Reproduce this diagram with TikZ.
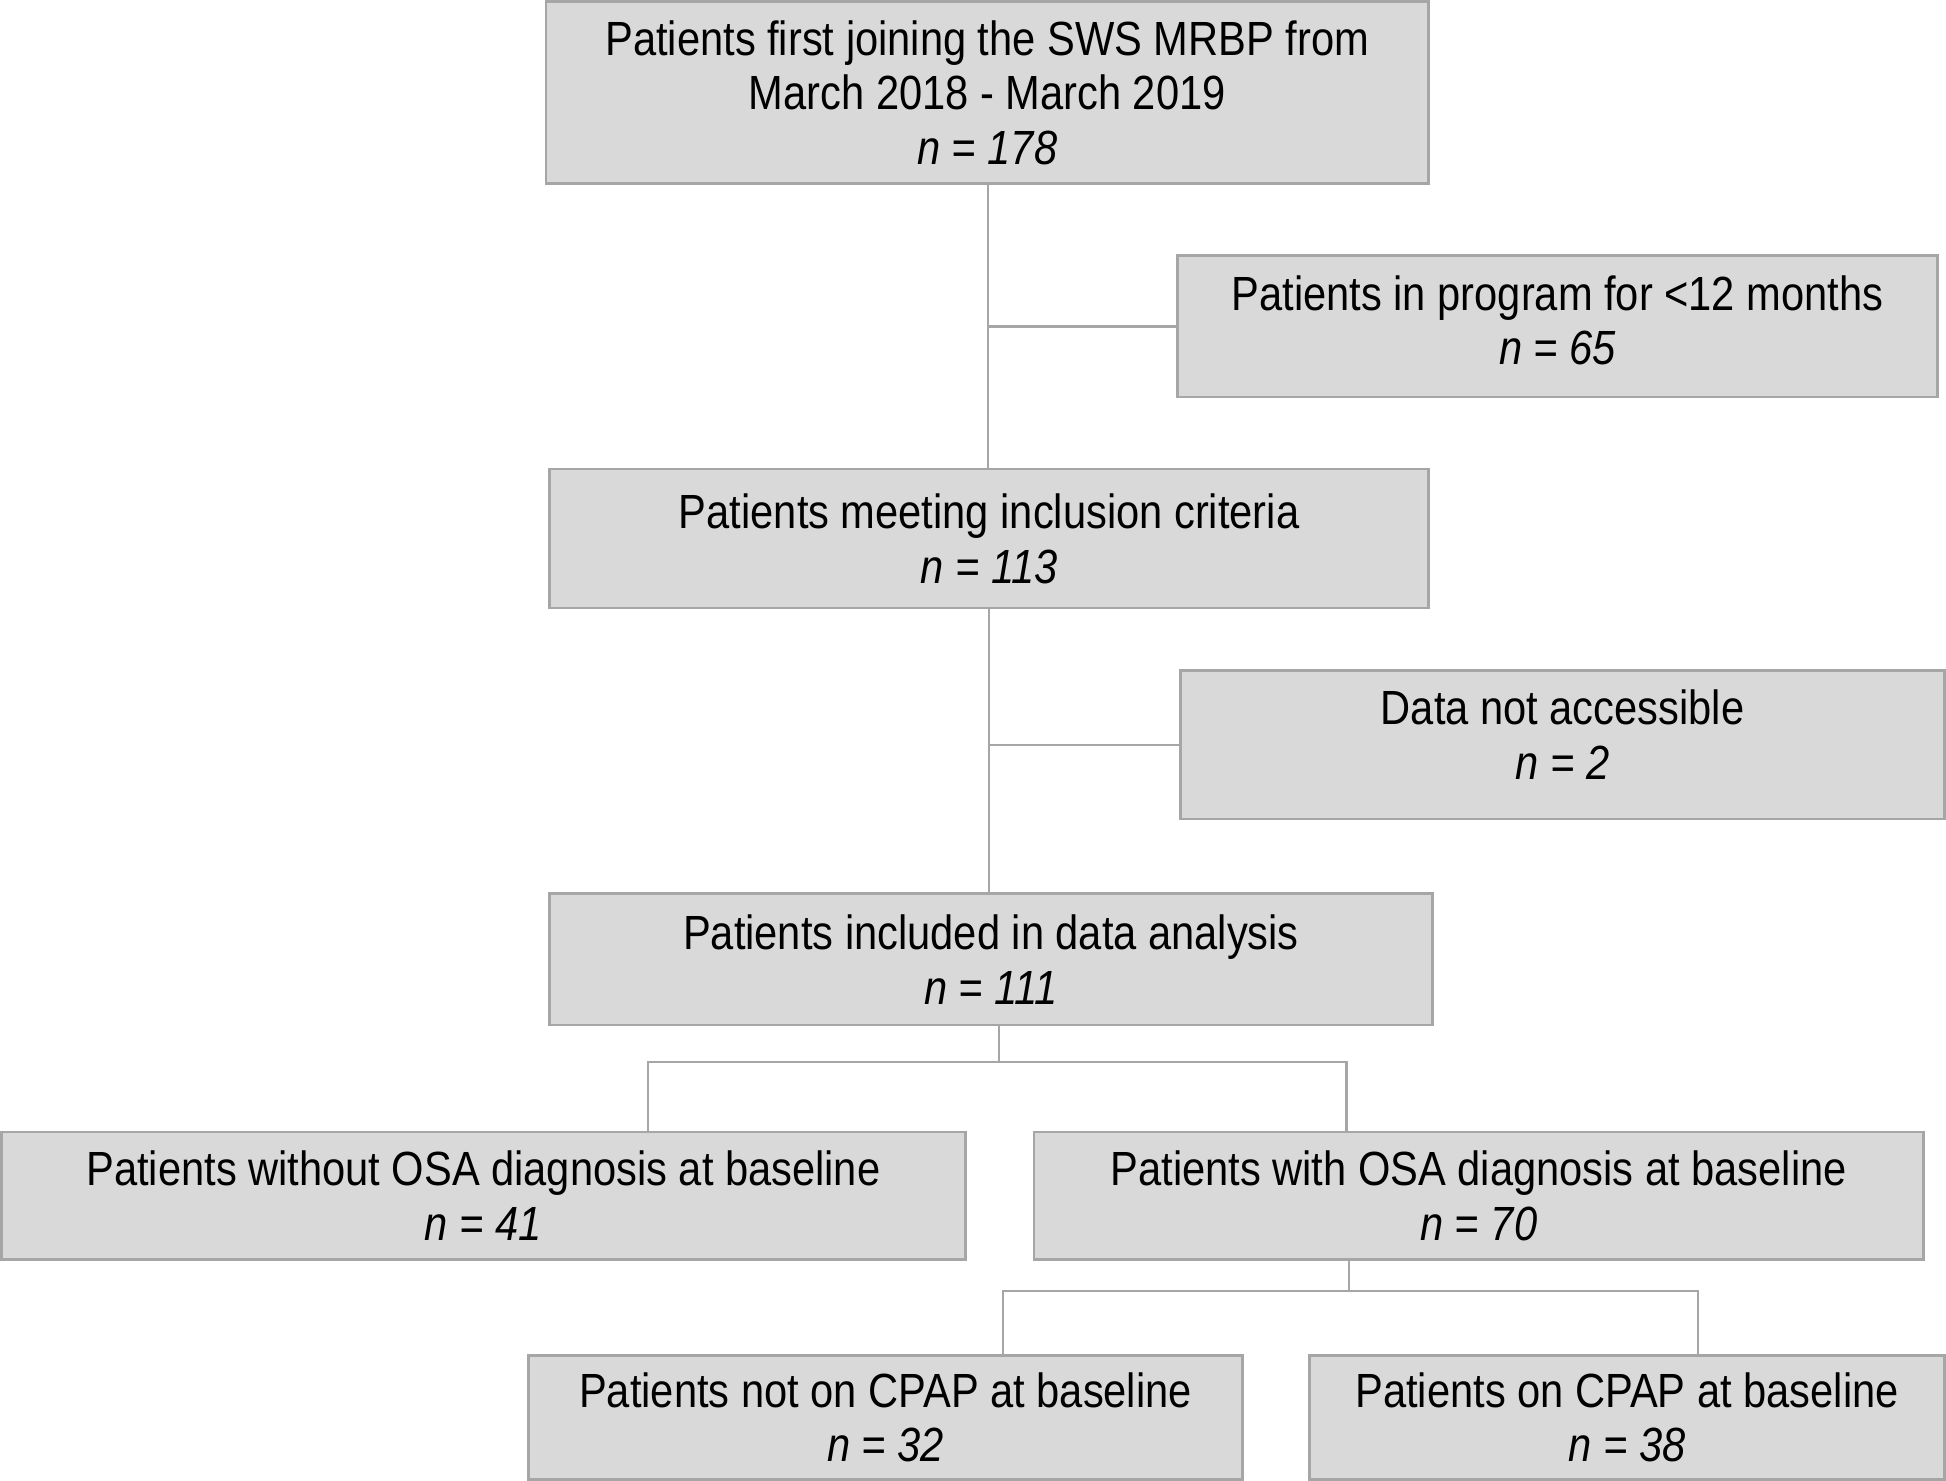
\documentclass[tikz,border=0pt]{standalone}
\usepackage{fontspec}
\setmainfont[FakeStretch=0.868]{Liberation Sans}
\definecolor{boxfill}{HTML}{D9D9D9}
\definecolor{boxline}{HTML}{A6A6A6}
\definecolor{connline}{HTML}{A6A6A6}
\begin{document}
\begin{tikzpicture}[x=0.1mm,y=-0.1mm,
  box/.style={draw=boxline, fill=boxfill, line width=0.6pt, inner sep=0pt, align=center,
    font=\fontsize{11.0}{12.5}\selectfont},
  conn/.style={draw=connline, line width=0.5pt}]
\useasboundingbox (0,0) rectangle (1568,1193);
\node[box, minimum width=71.1mm, minimum height=14.7mm] (b1) at (795.5,74.5)
  {Patients first joining the SWS MRBP from\\March 2018 - March 2019\\\textit{n = 178}};
\node[box, minimum width=61.2mm, minimum height=11.4mm, text depth=1.0mm] (b2) at (1255,263)
  {Patients in program for {<}12 months\\\textit{n = 65}};
\node[box, minimum width=70.8mm, minimum height=11.2mm] (b3) at (797,434)
  {Patients meeting inclusion criteria\\\textit{n = 113}};
\node[box, minimum width=61.6mm, minimum height=12.0mm, text depth=1.6mm] (b4) at (1259,600)
  {Data not accessible\\\textit{n = 2}};
\node[box, minimum width=71.1mm, minimum height=10.6mm] (b5) at (798.5,773)
  {Patients included in data analysis\\\textit{n = 111}};
\node[box, minimum width=77.7mm, minimum height=10.3mm] (b6) at (389.5,963.5)
  {Patients without OSA diagnosis at baseline\\\textit{n = 41}};
\node[box, minimum width=71.7mm, minimum height=10.3mm] (b7) at (1191.5,963.5)
  {Patients with OSA diagnosis at baseline\\\textit{n = 70}};
\node[box, minimum width=57.5mm, minimum height=10.0mm] (b8) at (713.5,1142)
  {Patients not on CPAP at baseline\\\textit{n = 32}};
\node[box, minimum width=51.2mm, minimum height=10.0mm] (b9) at (1311,1142)
  {Patients on CPAP at baseline\\\textit{n = 38}};
% trunk 1
\coordinate (t1) at (796,263);
\draw[conn] (b1.south -| t1) -- (b3.north -| t1);
\draw[conn] (t1) -- (b2.west);
% trunk 2
\coordinate (t2) at (797,600);
\draw[conn] (b3.south -| t2) -- (b5.north -| t2);
\draw[conn] (t2) -- (b4.west);
% split 1
\coordinate (j1) at (805,856);
\coordinate (l1) at (522,856);
\coordinate (r1) at (1085,856);
\draw[conn] (b5.south -| j1) -- (j1);
\draw[conn] (b6.north -| l1) -- (l1) -- (r1) -- (b7.north -| r1);
% split 2
\coordinate (j2) at (1087,1040);
\coordinate (l2) at (808,1040);
\coordinate (r2) at (1368,1040);
\draw[conn] (b7.south -| j2) -- (j2);
\draw[conn] (b8.north -| l2) -- (l2) -- (r2) -- (b9.north -| r2);
\end{tikzpicture}
\end{document}
